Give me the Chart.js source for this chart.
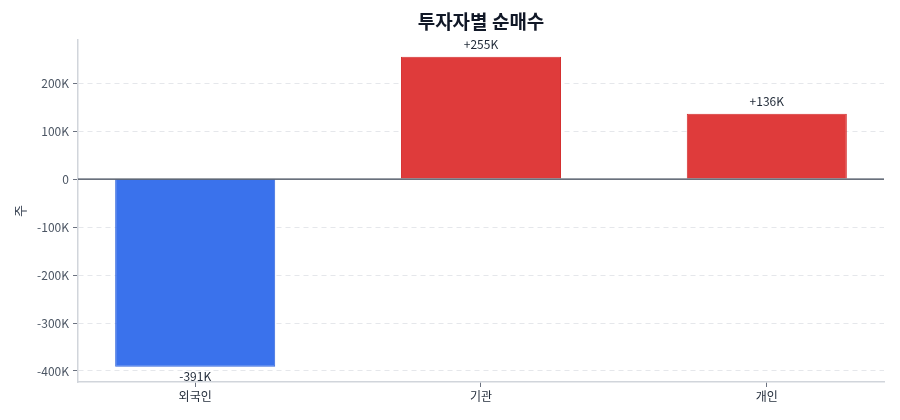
<!DOCTYPE html>
<html>
<head>
<meta charset="utf-8">
<script src="https://cdn.jsdelivr.net/npm/chart.js@4/dist/chart.umd.min.js"></script>
<style>
  html, body { margin: 0; padding: 0; background: #fff; }
  #wrap { width: 900px; height: 420px; }
</style>
</head>
<body>
<div id="wrap"><canvas id="chart"></canvas></div>
<script>
var categories = ["외국인", "기관", "개인"];
var netBuy = [-391000, 255000, 136000];
var yTicks = [-400000, -300000, -200000, -100000, 0, 100000, 200000];
var yMin = -423000;
var yMax = 290000;
var chartTitle = "투자자별 순매수";
var yTitle = "주";

var FONT = "'Noto Sans CJK KR', 'Noto Sans', sans-serif";
var BLUE = "#3a72ec";
var RED = "#df3b3b";

function fmtK(v) {
    return Math.round(v / 1000) + "K";
}

// title centred over the plot area, not the canvas
var titlePlugin = {
    id: "plotTitle",
    afterDraw: function(chart) {
        var ctx = chart.ctx, a = chart.chartArea;
        ctx.save();
        ctx.font = "bold 19px " + FONT;
        ctx.fillStyle = "#111827";
        ctx.textAlign = "center";
        ctx.textBaseline = "middle";
        ctx.fillText(chartTitle, (a.left + a.right) / 2, 22);
        ctx.restore();
    }
};

// dark zero line + value labels
var labelPlugin = {
    id: "valueLabels",
    afterDatasetsDraw: function(chart) {
        var ctx = chart.ctx, a = chart.chartArea;
        var y0 = chart.scales.y.getPixelForValue(0);
        ctx.save();
        ctx.strokeStyle = "#374151";
        ctx.lineWidth = 1.3;
        ctx.beginPath();
        ctx.moveTo(a.left, y0);
        ctx.lineTo(a.right, y0);
        ctx.stroke();

        ctx.font = "12px " + FONT;
        ctx.fillStyle = "#1f2937";
        ctx.textAlign = "center";
        var meta = chart.getDatasetMeta(0);
        meta.data.forEach(function(bar, i) {
            var v = netBuy[i];
            if (v >= 0) {
                ctx.textBaseline = "bottom";
                ctx.fillText("+" + fmtK(v), bar.x, bar.y - 6);
            } else {
                ctx.textBaseline = "top";
                ctx.fillText(fmtK(v), bar.x, bar.y + 4);
            }
        });
        ctx.restore();
    }
};

var ctx = document.getElementById("chart");
var myChart = new Chart(ctx, {
    type: "bar",
    data: {
        datasets: [{
            label: "순매수",
            data: netBuy.map(function(v, i) { return { x: i, y: v }; }),
            backgroundColor: netBuy.map(function(v) { return v < 0 ? BLUE : RED; }),
            borderColor: netBuy.map(function(v) { return v < 0 ? "#3569dc" : "#d43030"; }),
            borderWidth: 1,
            borderSkipped: "start",
            categoryPercentage: 1,
            barPercentage: 0.56
        }]
    },
    options: {
        responsive: true,
        maintainAspectRatio: false,
        animation: false,
        layout: { padding: { top: 40, right: 16, bottom: 0, left: 0 } },
        plugins: {
            legend: { display: false },
            title: { display: false },
            tooltip: { enabled: false }
        },
        scales: {
            x: {
                type: "linear",
                min: -0.41,
                max: 2.41,
                offset: false,
                afterBuildTicks: function(scale) {
                    scale.ticks = categories.map(function(c, i) { return { value: i }; });
                },
                afterFit: function(scale) { scale.height = 38; },
                ticks: {
                    callback: function(v) { return categories[v]; },
                    font: { family: FONT, size: 12 },
                    color: "#1f2937",
                    padding: 2,
                    maxRotation: 0
                },
                grid: {
                    offset: false,
                    drawOnChartArea: false,
                    drawTicks: true,
                    tickLength: 5,
                    tickColor: "#6b7280"
                },
                border: { color: "#d1d5db", width: 1.5 }
            },
            y: {
                min: yMin,
                max: yMax,
                afterBuildTicks: function(scale) {
                    scale.ticks = yTicks.map(function(v) { return { value: v }; });
                },
                afterFit: function(scale) { scale.width = 78; },
                ticks: {
                    callback: function(v) { return v === 0 ? "0" : fmtK(v); },
                    font: { family: FONT, size: 12 },
                    color: "#4b5563",
                    padding: 4
                },
                grid: {
                    color: function(c) { return c.tick && c.tick.value === 0 ? "rgba(0,0,0,0)" : "#e5e7eb"; },
                    lineWidth: 1,
                    drawTicks: true,
                    tickLength: 5,
                    tickColor: "#6b7280"
                },
                border: { color: "#d1d5db", width: 1.5, dash: [5, 4] },
                title: {
                    display: true,
                    text: yTitle,
                    font: { family: FONT, size: 13 },
                    color: "#374151",
                    padding: { top: 12, bottom: 0 }
                }
            }
        }
    },
    plugins: [titlePlugin, labelPlugin]
});
</script>
</body>
</html>
